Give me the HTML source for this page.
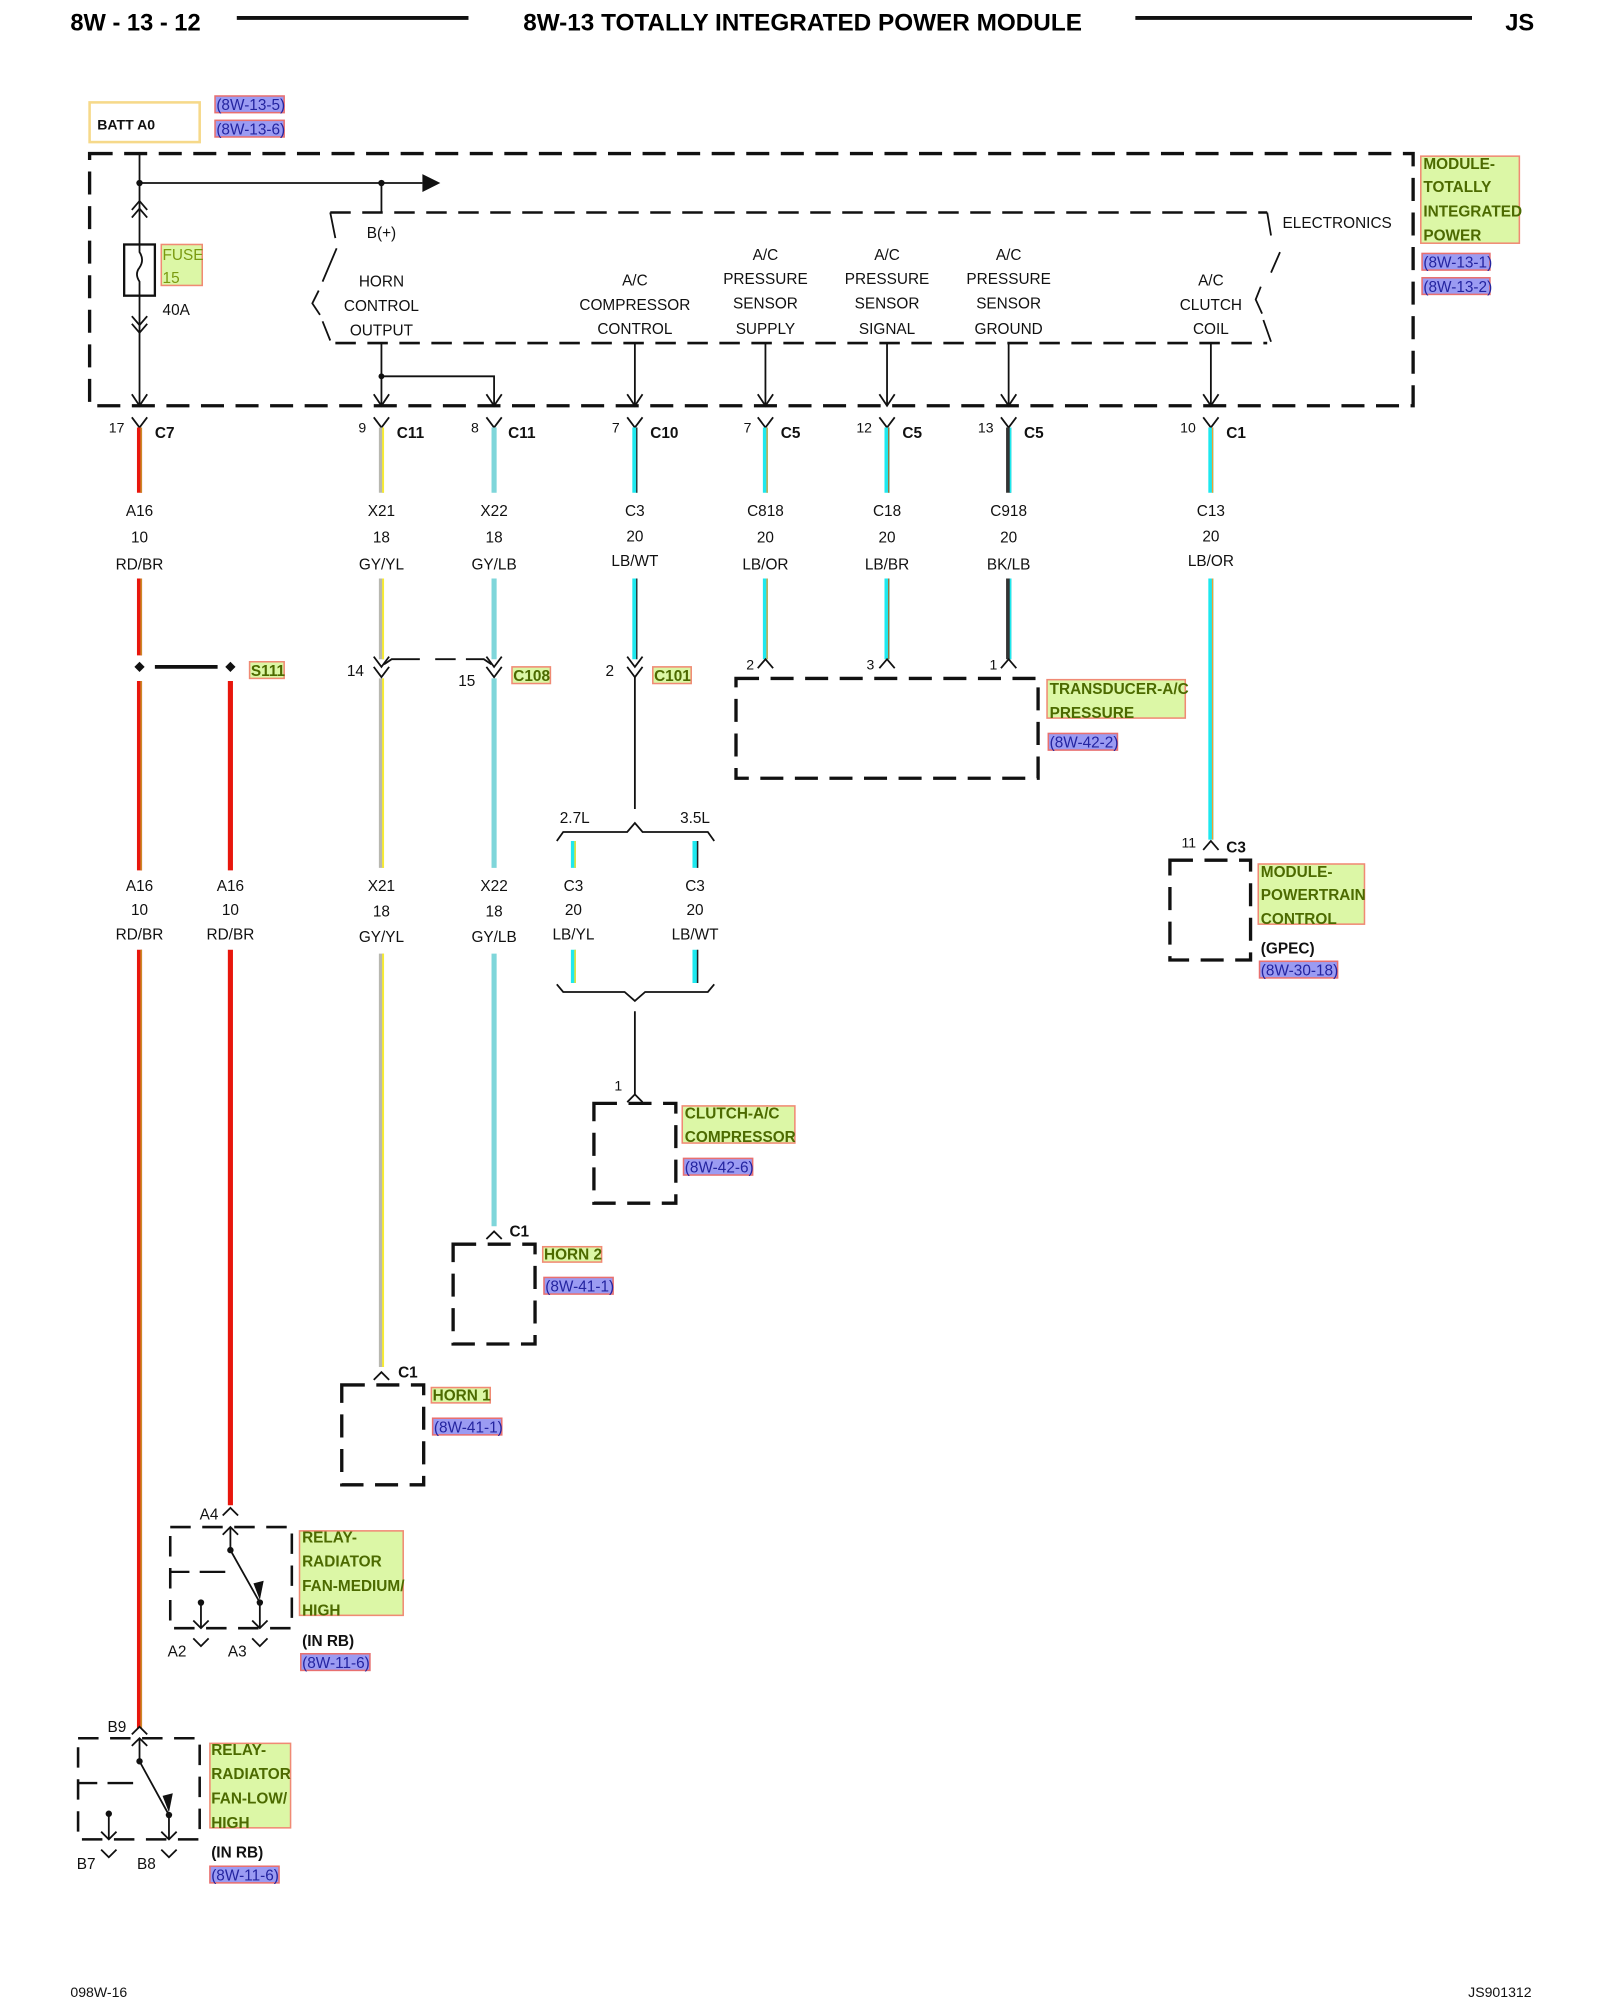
<!DOCTYPE html>
<html><head><meta charset="utf-8"><style>
html,body{margin:0;padding:0;background:#fff;width:1600px;height:2000px;overflow:hidden}
svg{display:block}
text{font-family:"Liberation Sans",sans-serif}
.t{font-size:12px;fill:#111;text-anchor:middle}
.tl{font-size:12px;fill:#111}
.b{font-size:12px;font-weight:bold;fill:#111}
.g{font-size:12px;font-weight:bold;fill:#4c6a00}
.r{font-size:12px;fill:#2424a0}
.gb{fill:#dcf7a6;stroke:#f08a74;stroke-width:1.2}
.rb{fill:#9b9bf2;stroke:#e87070;stroke-width:1.2}
.k{stroke:#111;stroke-width:1.4;fill:none}
.d{stroke:#111;stroke-width:2.6;fill:none;stroke-dasharray:18 9}
.d2{stroke:#111;stroke-width:2;fill:none;stroke-dasharray:16 9}
</style></head><body>
<svg width="1600" height="2000" viewBox="0 0 1250 1562.5" xmlns="http://www.w3.org/2000/svg">
<!-- header -->
<text x="55" y="24" style="font-size:18.5px;font-weight:bold">8W - 13 - 12</text>
<line x1="185" y1="14" x2="366" y2="14" stroke="#111" stroke-width="3"/>
<text x="627" y="24" style="font-size:19px;font-weight:bold;text-anchor:middle">8W-13 TOTALLY INTEGRATED POWER MODULE</text>
<line x1="887" y1="14" x2="1150" y2="14" stroke="#111" stroke-width="3"/>
<text x="1176" y="24" style="font-size:18.5px;font-weight:bold">JS</text>

<!-- BATT A0 -->
<rect x="70" y="80" width="86" height="31" fill="#fff" stroke="#f6d98a" stroke-width="2"/>
<text x="76" y="101" class="b" style="font-size:11px">BATT A0</text>
<rect x="168" y="75" width="54" height="13" class="rb"/><text x="169" y="86" class="r">(8W-13-5)</text>
<rect x="168" y="94" width="54" height="13" class="rb"/><text x="169" y="105" class="r">(8W-13-6)</text>

<!-- outer dashed box -->
<path d="M70 120 H1104 V317 H70 Z" class="d"/>
<!-- feed line -->
<path d="M109 120 V317" class="k"/>
<path d="M103 308 L109 317 L115 308" class="k"/>
<circle cx="109" cy="143" r="2.5" fill="#111"/>
<path d="M109 143 H330" class="k"/>
<path d="M330 136 L344 143 L330 150 Z" fill="#111"/>
<circle cx="298" cy="143" r="2.5" fill="#111"/>
<path d="M298 143 V166" class="k"/>
<!-- fuse chevrons -->
<path d="M103 164 L109 157 L115 164 M103 170 L109 163 L115 170" class="k"/>
<path d="M103 247 L109 254 L115 247 M103 253 L109 260 L115 253" class="k"/>
<rect x="97" y="191" width="24" height="40" fill="#fff" stroke="#111" stroke-width="1.8"/>
<path d="M109 191 V197 Q113 203 109 209 Q105 214 109 220 V231" class="k"/>
<rect x="126" y="191" width="32" height="32" class="gb"/>
<text x="127" y="203" style="font-size:12px;fill:#7a9a10">FUSE</text>
<text x="127" y="221" style="font-size:12px;fill:#7a9a10">15</text>
<text x="127" y="246" class="tl">40A</text>

<!-- inner dashed box -->
<path d="M258 166 H990" class="d2"/>
<path d="M262 268 H990" class="d2"/>
<path d="M258 166 L262 186 M263 194 L252 220 M249 227 L244 237 L250 246 M252 251 L258 266" class="k" stroke-width="1.6"/>
<path d="M990 166 L993 184 M1000 197 L993 213 M985 224 L981 234 L986 245 M987 250 L993 267" class="k" stroke-width="1.6"/>
<text x="298" y="186" class="t">B(+)</text>
<text x="1002" y="178" class="tl">ELECTRONICS</text>
<g class="t">
<text x="298" y="224">HORN</text><text x="298" y="243">CONTROL</text><text x="298" y="262">OUTPUT</text>
<text x="496" y="223">A/C</text><text x="496" y="242">COMPRESSOR</text><text x="496" y="261">CONTROL</text>
<text x="598" y="203">A/C</text><text x="598" y="222">PRESSURE</text><text x="598" y="241">SENSOR</text><text x="598" y="261">SUPPLY</text>
<text x="693" y="203">A/C</text><text x="693" y="222">PRESSURE</text><text x="693" y="241">SENSOR</text><text x="693" y="261">SIGNAL</text>
<text x="788" y="203">A/C</text><text x="788" y="222">PRESSURE</text><text x="788" y="241">SENSOR</text><text x="788" y="261">GROUND</text>
<text x="946" y="223">A/C</text><text x="946" y="242">CLUTCH</text><text x="946" y="261">COIL</text>
</g>
<!-- module label -->
<rect x="1110" y="122" width="77" height="68" class="gb"/>
<text x="1112" y="132" class="g">MODULE-</text>
<text x="1112" y="150" class="g">TOTALLY</text>
<text x="1112" y="169" class="g">INTEGRATED</text>
<text x="1112" y="188" class="g">POWER</text>
<rect x="1111" y="198" width="53" height="13" class="rb"/><text x="1112" y="209" class="r">(8W-13-1)</text>
<rect x="1111" y="217" width="53" height="13" class="rb"/><text x="1112" y="228" class="r">(8W-13-2)</text>

<!-- down arrows -->
<path d="M298 268 V317 M298 294 H386 V317 M496 268 V317 M598 268 V317 M693 268 V317 M788 268 V317 M946 268 V317" class="k"/>
<circle cx="298" cy="294" r="2.3" fill="#111"/>
<path d="M292 308 L298 317 L304 308 M380 308 L386 317 L392 308 M490 308 L496 317 L502 308 M592 308 L598 317 L604 308 M687 308 L693 317 L699 308 M782 308 L788 317 L794 308 M940 308 L946 317 L952 308" class="k"/>

<!-- Y connectors -->
<path d="M103 326 L109 334 L115 326 M292 326 L298 334 L304 326 M380 326 L386 334 L392 326 M490 326 L496 334 L502 326 M592 326 L598 334 L604 326 M687 326 L693 334 L699 326 M782 326 L788 334 L794 326 M940 326 L946 334 L952 326" class="k"/>
<g class="tl" style="font-size:11px">
<text x="85" y="338">17</text><text x="280" y="338">9</text><text x="368" y="338">8</text><text x="478" y="338">7</text>
<text x="581" y="338">7</text><text x="669" y="338">12</text><text x="764" y="338">13</text><text x="922" y="338">10</text>
</g>
<g class="b">
<text x="121" y="342">C7</text><text x="310" y="342">C11</text><text x="397" y="342">C11</text><text x="508" y="342">C10</text>
<text x="610" y="342">C5</text><text x="705" y="342">C5</text><text x="800" y="342">C5</text><text x="958" y="342">C1</text>
</g>

<g>
<path d="M109 334 V385 M109 452 V512 M109 532 V680 M109 742 V1350" stroke="#e8160c" stroke-width="4"/>
<path d="M110.3 334 V385 M110.3 452 V512 M110.3 532 V680 M110.3 742 V1350" stroke="#c8902a" stroke-width="1.2"/>
<path d="M180 532 V680 M180 742 V1176" stroke="#e8160c" stroke-width="4"/>
<path d="M298 334 V385 M298 452 V515 M298 530 V678 M298 745 V1068" stroke="#b8b8b0" stroke-width="4"/>
<path d="M299.3 334 V385 M299.3 452 V515 M299.3 530 V678 M299.3 745 V1068" stroke="#f8ec30" stroke-width="1.5"/>
<path d="M386 334 V385 M386 452 V515 M386 530 V678 M386 745 V958" stroke="#7fd6da" stroke-width="4"/>
<path d="M496 334 V385 M496 452 V515" stroke="#1ee8ee" stroke-width="4"/>
<path d="M497.5 334 V385 M497.5 452 V515" stroke="#222" stroke-width="1"/>
<path d="M598 334 V385 M598 452 V515" stroke="#1ee8ee" stroke-width="4"/>
<path d="M599.3 334 V385 M599.3 452 V515" stroke="#f0a030" stroke-width="1"/>
<path d="M693 334 V385 M693 452 V515" stroke="#1ee8ee" stroke-width="4"/>
<path d="M694.3 334 V385 M694.3 452 V515" stroke="#a07030" stroke-width="1"/>
<path d="M788 334 V385 M788 452 V515" stroke="#333" stroke-width="4"/>
<path d="M789.5 334 V385 M789.5 452 V515" stroke="#1ee8ee" stroke-width="1.3"/>
<path d="M946 334 V385 M946 452 V656" stroke="#1ee8ee" stroke-width="4"/>
<path d="M947.3 334 V385 M947.3 452 V656" stroke="#f0a030" stroke-width="1"/>
<path d="M448 657 V678 M448 742 V768" stroke="#1ee8ee" stroke-width="4"/>
<path d="M449.3 657 V678 M449.3 742 V768" stroke="#f0e030" stroke-width="1.2"/>
<path d="M543 657 V678 M543 742 V768" stroke="#1ee8ee" stroke-width="4"/>
<path d="M545 657 V678 M545 742 V768" stroke="#222" stroke-width="1.2"/>
</g>

<g class="t">
<text x="109" y="403">A16</text><text x="109" y="424">10</text><text x="109" y="445">RD/BR</text>
<text x="298" y="403">X21</text><text x="298" y="424">18</text><text x="298" y="445">GY/YL</text>
<text x="386" y="403">X22</text><text x="386" y="424">18</text><text x="386" y="445">GY/LB</text>
<text x="496" y="403">C3</text><text x="496" y="423">20</text><text x="496" y="442">LB/WT</text>
<text x="598" y="403">C818</text><text x="598" y="424">20</text><text x="598" y="445">LB/OR</text>
<text x="693" y="403">C18</text><text x="693" y="424">20</text><text x="693" y="445">LB/BR</text>
<text x="788" y="403">C918</text><text x="788" y="424">20</text><text x="788" y="445">BK/LB</text>
<text x="946" y="403">C13</text><text x="946" y="423">20</text><text x="946" y="442">LB/OR</text>
</g>

<path d="M109 517 L113 521 L109 525 L105 521 Z M180 517 L184 521 L180 525 L176 521 Z" fill="#111"/>
<path d="M121 521 H170" stroke="#111" stroke-width="3"/>
<rect x="195" y="517" width="27" height="13" class="gb"/><text x="196" y="528" class="g">S111</text>

<path d="M292 513 L298 521 L304 513 M292 521 L298 529 L304 521" class="k"/>
<path d="M380 513 L386 521 L392 513 M380 521 L386 529 L392 521" class="k"/>
<path d="M300 519 L306 515 H328 M340 515 H356 M364 515 H378 L384 519" class="k" stroke-width="1.6"/>
<text x="271" y="528" class="tl">14</text>
<text x="358" y="536" class="tl">15</text>
<rect x="400" y="521" width="30" height="13" class="gb"/><text x="401" y="532" class="g">C108</text>
<path d="M490 513 L496 521 L502 513 M490 521 L496 529 L502 521" class="k"/>
<text x="473" y="528" class="tl">2</text>
<rect x="510" y="521" width="30" height="13" class="gb"/><text x="511" y="532" class="g">C101</text>
<path d="M496 529 V632" class="k"/>
<path d="M435 657 L440 650 H490 L496 643 L502 650 H553 L558 657" class="k"/>
<text x="449" y="643" class="t">2.7L</text><text x="543" y="643" class="t">3.5L</text>
<g class="t">
<text x="448" y="696">C3</text><text x="448" y="715">20</text><text x="448" y="734">LB/YL</text>
<text x="543" y="696">C3</text><text x="543" y="715">20</text><text x="543" y="734">LB/WT</text>
<text x="109" y="696">A16</text><text x="109" y="715">10</text><text x="109" y="734">RD/BR</text>
<text x="180" y="696">A16</text><text x="180" y="715">10</text><text x="180" y="734">RD/BR</text>
<text x="298" y="696">X21</text><text x="298" y="716">18</text><text x="298" y="736">GY/YL</text>
<text x="386" y="696">X22</text><text x="386" y="716">18</text><text x="386" y="736">GY/LB</text>
</g>
<path d="M435 769 L440 775 H488 L496 782 L504 775 H553 L558 769" class="k"/>
<path d="M496 790 V855" class="k"/>
<path d="M490 861 L496 855 L502 861" class="k"/>
<text x="480" y="852" class="tl" style="font-size:11px">1</text>
<path d="M464 862 H528 V940 H464 Z" class="d"/>
<rect x="533" y="864" width="88" height="29" class="gb"/>
<text x="535" y="874" class="g">CLUTCH-A/C</text><text x="535" y="892" class="g">COMPRESSOR</text>
<rect x="534" y="905" width="54" height="13" class="rb"/><text x="535" y="916" class="r">(8W-42-6)</text>

<path d="M592 522 L598 515 L604 522 M687 522 L693 515 L699 522 M782 522 L788 515 L794 522" class="k"/>
<text x="583" y="523" class="tl" style="font-size:11px">2</text>
<text x="677" y="523" class="tl" style="font-size:11px">3</text>
<text x="773" y="523" class="tl" style="font-size:11px">1</text>
<path d="M575 530 H811 V608 H575 Z" class="d"/>
<rect x="818" y="531" width="108" height="30" class="gb"/>
<text x="820" y="542" class="g">TRANSDUCER-A/C</text><text x="820" y="561" class="g">PRESSURE</text>
<rect x="819" y="573" width="54" height="13" class="rb"/><text x="820" y="584" class="r">(8W-42-2)</text>

<path d="M940 664 L946 657 L952 664" class="k"/>
<text x="923" y="662" class="tl" style="font-size:11px">11</text>
<text x="958" y="666" class="b">C3</text>
<path d="M914 672 H977 V750 H914 Z" class="d"/>
<rect x="983" y="675" width="83" height="47" class="gb"/>
<text x="985" y="685" class="g">MODULE-</text><text x="985" y="703" class="g">POWERTRAIN</text><text x="985" y="722" class="g">CONTROL</text>
<text x="985" y="745" class="b">(GPEC)</text>
<rect x="984" y="751" width="61" height="13" class="rb"/><text x="985" y="762" class="r">(8W-30-18)</text>

<path d="M380 968 L386 962 L392 968" class="k"/>
<text x="398" y="966" class="b">C1</text>
<path d="M354 972 H418 V1050 H354 Z" class="d"/>
<rect x="424" y="974" width="46" height="12" class="gb"/><text x="425" y="984" class="g">HORN 2</text>
<rect x="425" y="998" width="54" height="13" class="rb"/><text x="426" y="1009" class="r">(8W-41-1)</text>

<path d="M292 1078 L298 1072 L304 1078" class="k"/>
<text x="311" y="1076" class="b">C1</text>
<path d="M267 1082 H331 V1160 H267 Z" class="d"/>
<rect x="337" y="1084" width="46" height="12" class="gb"/><text x="338" y="1094" class="g">HORN 1</text>
<rect x="338" y="1108" width="54" height="13" class="rb"/><text x="339" y="1119" class="r">(8W-41-1)</text>

<path d="M174 1184 L180 1178 L186 1184" class="k"/>
<text x="156" y="1187" class="tl">A4</text>
<path d="M133 1193 H228 V1272 H133 Z" class="d2"/>
<path d="M174 1199 L180 1193 L186 1199 M180 1193 V1211 L203 1252 V1272" class="k" stroke-width="1.6"/>
<circle cx="180" cy="1211" r="2.5" fill="#111"/><circle cx="203" cy="1252" r="2.5" fill="#111"/>
<path d="M198 1237 L203 1250 L206 1235 Z" fill="#111"/>
<path d="M133 1228 H148 M156 1228 H176" stroke="#111" stroke-width="1.8"/>
<path d="M157 1252 V1272 M151 1266 L157 1272 L163 1266 M197 1266 L203 1272 L209 1266" class="k" stroke-width="1.6"/>
<circle cx="157" cy="1252" r="2.5" fill="#111"/>
<path d="M151 1280 L157 1286 L163 1280 M197 1280 L203 1286 L209 1280" class="k"/>
<text x="131" y="1294" class="tl">A2</text><text x="178" y="1294" class="tl">A3</text>
<rect x="234" y="1196" width="81" height="66" class="gb"/>
<text x="236" y="1205" class="g">RELAY-</text><text x="236" y="1224" class="g">RADIATOR</text>
<text x="236" y="1243" class="g">FAN-MEDIUM/</text><text x="236" y="1262" class="g">HIGH</text>
<text x="236" y="1286" class="b">(IN RB)</text>
<rect x="235" y="1292" width="54" height="13" class="rb"/><text x="236" y="1303" class="r">(8W-11-6)</text>

<path d="M103 1355 L109 1349 L115 1355" class="k"/>
<text x="84" y="1353" class="tl">B9</text>
<path d="M61 1358 H156 V1437 H61 Z" class="d2"/>
<path d="M103 1364 L109 1358 L115 1364 M109 1358 V1376 L132 1418 V1437" class="k" stroke-width="1.6"/>
<circle cx="109" cy="1376" r="2.5" fill="#111"/><circle cx="132" cy="1418" r="2.5" fill="#111"/>
<path d="M127 1403 L132 1416 L135 1401 Z" fill="#111"/>
<path d="M61 1393 H76 M84 1393 H104" stroke="#111" stroke-width="1.8"/>
<path d="M85 1417 V1437 M79 1431 L85 1437 L91 1431 M126 1431 L132 1437 L138 1431" class="k" stroke-width="1.6"/>
<circle cx="85" cy="1417" r="2.5" fill="#111"/>
<path d="M79 1445 L85 1451 L91 1445 M126 1445 L132 1451 L138 1445" class="k"/>
<text x="60" y="1460" class="tl">B7</text><text x="107" y="1460" class="tl">B8</text>
<rect x="164" y="1362" width="63" height="66" class="gb"/>
<text x="165" y="1371" class="g">RELAY-</text><text x="165" y="1390" class="g">RADIATOR</text>
<text x="165" y="1409" class="g">FAN-LOW/</text><text x="165" y="1428" class="g">HIGH</text>
<text x="165" y="1451" class="b">(IN RB)</text>
<rect x="164" y="1458" width="54" height="13" class="rb"/><text x="165" y="1469" class="r">(8W-11-6)</text>

<text x="55" y="1560" class="tl" style="font-size:11px">098W-16</text>
<text x="1147" y="1560" class="tl" style="font-size:11px">JS901312</text>
</svg>
</body></html>
